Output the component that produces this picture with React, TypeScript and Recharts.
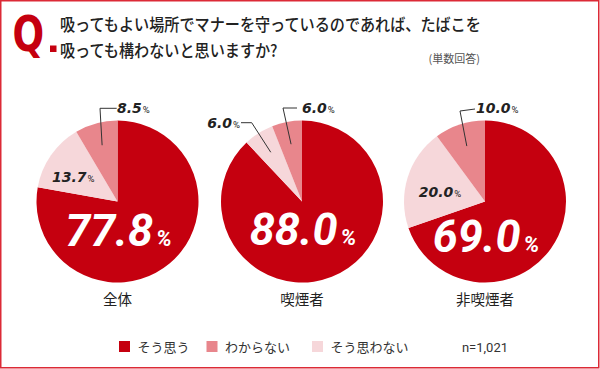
import React from 'react';
import { PieChart, Pie, Cell } from 'recharts';

// ---- data ----
const categories = ['全体', '喫煙者', '非喫煙者'];
const seriesNames = ['そう思う', 'わからない', 'そう思わない'];
const agree = [77.8, 88.0, 69.0];
const dontKnow = [8.5, 6.0, 10.0];
const disagree = [13.7, 6.0, 20.0];
const titleLines = [
  '吸ってもよい場所でマナーを守っているのであれば、たばこを',
  '吸っても構わないと思いますか?',
];
const answerType = '(単数回答)';
const sampleNote = 'n=1,021';

// ---- styles / layout ----
const COLORS: Record<string, string> = {
  'そう思う': '#c5000f',
  'わからない': '#e8868c',
  'そう思わない': '#f6d7da',
};
const RED = '#c5000f';
const FONT_JP = '"Noto Sans CJK JP", "Noto Sans", sans-serif';
const FONT_NUM = 'Roboto, "Noto Sans", sans-serif';
const FONT_SMALL = '"DejaVu Sans", sans-serif';
const W = 600;
const H = 369;
const CY = 201.5;
const R = 81;
const RAD = Math.PI / 180;

type LabelLayout =
  | { kind: 'inside'; dx: number; dy: number }
  | { kind: 'leader'; elbow: [number, number]; end: [number, number]; tdx: number; tdy: number; anchor: 'start' | 'end' };

const layouts: { cx: number; bigDy: number; labels: Record<string, LabelLayout> }[] = [
  {
    cx: 117.5,
    bigDy: 44,
    labels: {
      'わからない': { kind: 'leader', elbow: [-17.5, -93.2], end: [-0.8, -93.2], tdx: -0.5, tdy: -89, anchor: 'start' },
      'そう思わない': { kind: 'inside', dx: -44.2, dy: -19.8 },
    },
  },
  {
    cx: 302,
    bigDy: 43.5,
    labels: {
      'わからない': { kind: 'leader', elbow: [-19, -93.5], end: [-5, -93.5], tdx: 0, tdy: -89, anchor: 'start' },
      'そう思わない': { kind: 'leader', elbow: [-50.3, -78.8], end: [-61, -78.8], tdx: -62, tdy: -74, anchor: 'end' },
    },
  },
  {
    cx: 485,
    bigDy: 50.5,
    labels: {
      'わからない': { kind: 'leader', elbow: [-25, -90.5], end: [-10, -92.5], tdx: -9, tdy: -89, anchor: 'start' },
      'そう思わない': { kind: 'inside', dx: -45, dy: -4.8 },
    },
  },
];

const chartData = categories.map((c, i) => [
  { name: 'そう思う', value: agree[i] },
  { name: 'そう思わない', value: disagree[i] },
  { name: 'わからない', value: dontKnow[i] },
]);

const makeLabel = (ci: number) => (props: any) => {
  const { cx, cy, midAngle, outerRadius, index } = props;
  const entry = chartData[ci][index];
  const txt = entry.value.toFixed(1);
  const lay = layouts[ci];
  if (entry.name === 'そう思う') {
    return (
      <text
        x={cx + 1}
        y={cy + lay.bigDy}
        textAnchor="middle"
        fill="#fff"
        fontFamily={FONT_NUM}
        fontStyle="italic"
        fontWeight={700}
      >
        <tspan fontSize={45}>{txt}</tspan>
        <tspan fontSize={22} dx={3}>%</tspan>
      </text>
    );
  }
  const l = lay.labels[entry.name];
  const numText = (x: number, y: number, anchor: 'start' | 'end' | 'middle') => (
    <text x={x} y={y} textAnchor={anchor} fill="#222" fontFamily={FONT_SMALL} fontStyle="italic" fontWeight={700}>
      <tspan fontSize={14}>{txt}</tspan>
      <tspan fontSize={9.5} dx={1} fontFamily={FONT_NUM} fontStyle="normal" fontWeight={400}>%</tspan>
    </text>
  );
  if (l.kind === 'inside') {
    return <g>{numText(cx + l.dx, cy + l.dy, 'middle')}</g>;
  }
  const r = outerRadius * 0.72;
  const sx = cx + r * Math.cos(midAngle * RAD);
  const sy = cy - r * Math.sin(midAngle * RAD);
  const pts = `${sx},${sy} ${cx + l.elbow[0]},${cy + l.elbow[1]} ${cx + l.end[0]},${cy + l.end[1]}`;
  return (
    <g>
      <polyline points={pts} fill="none" stroke="#333" strokeWidth={1} />
      {numText(cx + l.tdx, cy + l.tdy, l.anchor)}
    </g>
  );
};

const legendX = [119, 206.5, 312];

export default function App() {
  return (
    <div style={{ position: 'absolute', left: 0, top: 0, width: W, height: H, background: '#fff' }}>
      <div style={{ position: 'absolute', left: 0, top: 0 }}>
        <PieChart width={W} height={H} margin={{ top: 0, right: 0, bottom: 0, left: 0 }}>
          {chartData.map((d, ci) => (
            <Pie
              key={categories[ci]}
              data={d}
              dataKey="value"
              nameKey="name"
              cx={layouts[ci].cx}
              cy={CY}
              outerRadius={R}
              startAngle={90}
              endAngle={-270}
              stroke="none"
              isAnimationActive={false}
              labelLine={false}
              label={makeLabel(ci)}
            >
              {d.map((e) => (
                <Cell key={e.name} fill={COLORS[e.name]} />
              ))}
            </Pie>
          ))}
        </PieChart>
      </div>
      <svg width={W} height={H} style={{ position: 'absolute', left: 0, top: 0, pointerEvents: 'none' }}>
        <rect x={0.75} y={0.75} width={W - 2} height={H - 2} fill="none" stroke="#dc2a36" strokeWidth={1.5} />
        <text
          transform="translate(12.5,50.5) scale(0.76,1)"
          fontFamily='"DejaVu Sans", sans-serif'
          fontWeight={700}
          fontSize={49}
          fill={RED}
        >
          Q
        </text>
        <rect x={50} y={45.5} width={6.5} height={6.5} fill={RED} />
        {titleLines.map((t, i) => (
          <text
            key={i}
            transform={`translate(60,${31 + i * 25.5}) scale(0.89,1)`}
            fontFamily={FONT_JP}
            fontWeight={500}
            fontSize={17}
            fill="#222"
          >
            {t}
          </text>
        ))}
        <text x={480} y={63} textAnchor="end" fontFamily={FONT_JP} fontSize={11} fill="#555">
          {answerType}
        </text>
        {categories.map((c, i) => (
          <text key={c} x={layouts[i].cx} y={305} textAnchor="middle" fontFamily={FONT_JP} fontSize={14.5} fill="#222">
            {c}
          </text>
        ))}
        {seriesNames.map((s, i) => (
          <g key={s}>
            <rect x={legendX[i]} y={341} width={11} height={11} fill={COLORS[s]} />
            <text x={legendX[i] + 18.5} y={351.5} fontFamily={FONT_JP} fontSize={13} fill="#333">
              {s}
            </text>
          </g>
        ))}
        <text x={508} y={352} textAnchor="end" fontFamily={FONT_NUM} fontSize={13} fill="#333">
          {sampleNote}
        </text>
      </svg>
    </div>
  );
}
